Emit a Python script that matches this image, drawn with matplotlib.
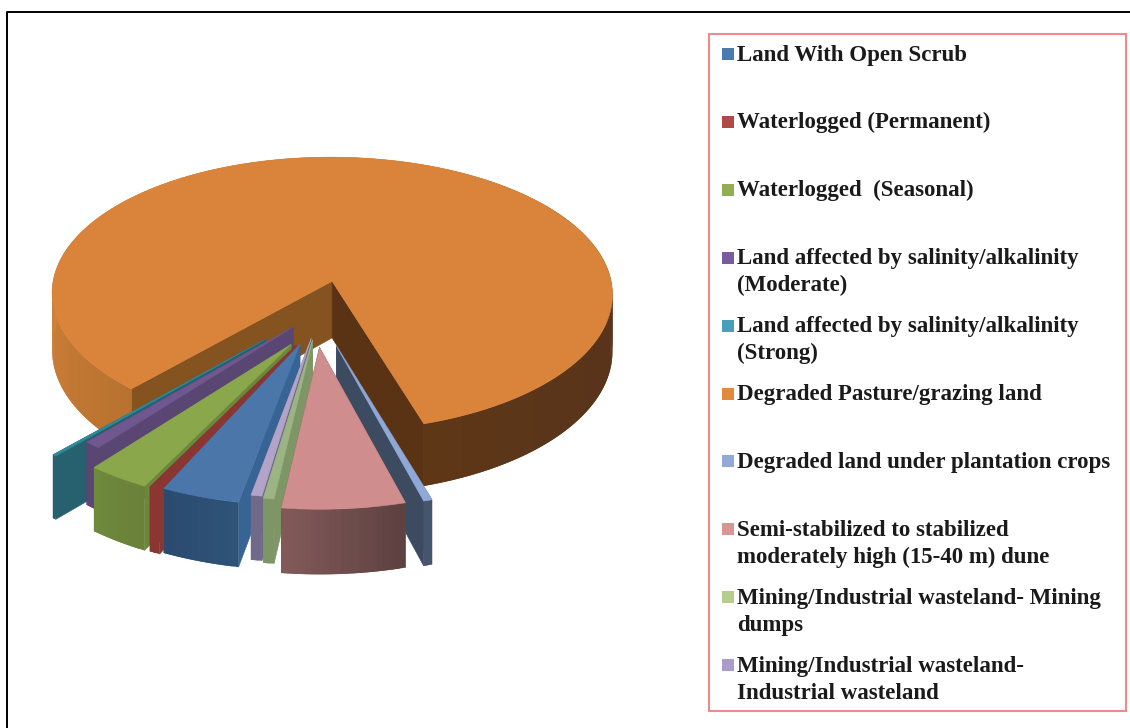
import numpy as np
import matplotlib
matplotlib.use("Agg")
import matplotlib.pyplot as plt
from matplotlib.colors import to_rgb
from matplotlib.patches import Polygon, Rectangle

# ---- data (percent of total) ----
categories = [
    "Land With Open Scrub", "Waterlogged (Permanent)", "Waterlogged  (Seasonal)",
    "Land affected by salinity/alkalinity\n(Moderate)",
    "Land affected by salinity/alkalinity\n(Strong)",
    "Degraded Pasture/grazing land", "Degraded land under plantation crops",
    "Semi-stabilized to stabilized\nmoderately high (15-40 m) dune",
    "Mining/Industrial wasteland- Mining\ndumps",
    "Mining/Industrial wasteland-\nIndustrial wasteland",
]
values = [4.03, 0.56, 3.19, 0.83, 0.19, 83.34, 0.44, 6.31, 0.55, 0.56]

# ---- style ----
top_colors = ["#4a76aa", "#8a3632", "#8aa74c", "#71578f", "#2f8a9c",
              "#d9833b", "#8fa9d6", "#cf8d8d", "#9cb384", "#b1a4c8"]
legend_colors = ["#4a7ab0", "#b04a48", "#93ae52", "#7a5c9e", "#45a0b8",
                 "#e08a3c", "#92a9d8", "#d99594", "#b5cd8d", "#a99cc8"]
radial_colors = ["#376494", "#8a3632", "#6b873b", "#5a4672", "#27606e",
                 "#85531f", "#3d4b60", "#6d4a4a", "#7e9565", "#6f6a88"]
orange_right_radial = "#5a3315"
wall_stops = [["#2f5378", "#2b4a6f"], ["#8a3632", "#8a3632"], ["#6a8038", "#6d8a3d"],
              ["#5a4672", "#5a4672"], ["#27606e", "#27606e"],
              ["#b8722f", "#d0813a", "#d0813a", "#d0813a", "#59341a", "#59341a", "#5e3717"],
              ["#46556e", "#46556e"], ["#5d4040", "#835a5a"], ["#7e9565", "#7e9565"],
              ["#6f6a88", "#6f6a88"]]
paint_order = [5, 6, 4, 3, 2, 1, 0, 9, 8, 7]
explode = 0.25
nudge_x = [0.03, 0.05, 0.058, 0.09, 0.0, 0.01, 0.006, 0.0, 0.03, 0.034]
nudge_y = [-0.03, -0.01, 0.0, -0.10, -0.01, 0.01, -0.02, -0.02, -0.07, -0.08]
first_angle = 191.0
CX, CY, A, B, K, DEPTH = 314, 314, 285, 143, 0.09, 58

plt.rcParams["font.family"] = ["Liberation Serif", "DejaVu Serif"]
fig = plt.figure(figsize=(11.30, 7.28), dpi=100)
ax = fig.add_axes([0, 0, 1, 1])
ax.set_xlim(0, 1130)
ax.set_ylim(728, 0)
ax.axis("off")


def project(X, Y, down=False):
    f = 1 + K * Y
    px = CX + A * X * f
    py = CY + B * Y * f
    if down:
        py = py + DEPTH * (1 + 0.1 * Y)
    return px, py


def shade(stops, t):
    rgb = np.array([to_rgb(c) for c in stops])
    pos = np.linspace(0, 1, len(stops))
    return tuple(np.interp(t, pos, rgb[:, i]) for i in range(3))


def poly(pts, color, z, lw=0.4):
    ax.add_patch(Polygon(pts, closed=True, facecolor=color, edgecolor=color if lw else "none",
                         linewidth=lw, zorder=z))


angles = first_angle + np.concatenate([[0], np.cumsum(values)]) * 3.6
z = 1
for i in paint_order:
    a0, a1 = np.radians(angles[i]), np.radians(angles[i + 1])
    mid = (a0 + a1) / 2
    ox = explode * np.sin(mid) + nudge_x[i]
    oy = -explode * np.cos(mid) + nudge_y[i]
    arc = np.linspace(a0, a1, max(4, int(np.degrees(a1 - a0))))
    ax_pts = ox + np.sin(arc)
    ay_pts = oy - np.cos(arc)
    tx, ty = project(ox, oy)
    bx, by = project(ox, oy, True)
    ux, uy = project(ax_pts, ay_pts)
    lx, ly = project(ax_pts, ay_pts, True)
    c_end = orange_right_radial if i == 5 else radial_colors[i]
    start_wall = [(tx, ty), (ux[0], uy[0]), (lx[0], ly[0]), (bx, by)]
    end_wall = [(tx, ty), (ux[-1], uy[-1]), (lx[-1], ly[-1]), (bx, by)]
    if i == 5:
        poly(start_wall, radial_colors[i], z)
        poly(end_wall, c_end, z)
    elif np.sin(mid) < 0:
        poly(end_wall, c_end, z)
        poly(start_wall, radial_colors[i], z)
    else:
        poly(start_wall, radial_colors[i], z)
        poly(end_wall, c_end, z)
    z += 1
    # outer wall: each strip overlaps the next one so no seams show
    n = len(arc)
    for j in range(n - 1):
        t = (j + 0.5) / (n - 1)
        k = min(j + 2, n - 1)
        quad = [(ux[j], uy[j]), (ux[k], uy[k]), (lx[k], ly[k]), (lx[j], ly[j])]
        poly(quad, shade(wall_stops[i], t), z, lw=0)
    z += 1
    poly(np.column_stack([np.r_[tx, ux], np.r_[ty, uy]]), top_colors[i], z)
    z += 1

# frame around the picture
ax.plot([7, 7, 1130], [728, 12, 12], color="black", lw=1.4, zorder=50, clip_on=False)

# legend box
ax.add_patch(Rectangle((709, 34), 417, 677, facecolor="white", edgecolor="#f08a8c",
                       linewidth=1.5, zorder=60))
row_gap = 67.9
line_gap = 27
for i, (name, col) in enumerate(zip(categories, legend_colors)):
    y = 54 + i * row_gap
    ax.add_patch(Rectangle((722, y - 6), 11.5, 12, facecolor=col, edgecolor="none", zorder=61))
    for n, line in enumerate(name.split("\n")):
        ax.text(737, y + 6.5 + n * line_gap, line, fontsize=16.5, fontweight="bold",
                color="#1a1a1a", va="baseline", ha="left", zorder=62)

fig.savefig("out.png", dpi=100)
